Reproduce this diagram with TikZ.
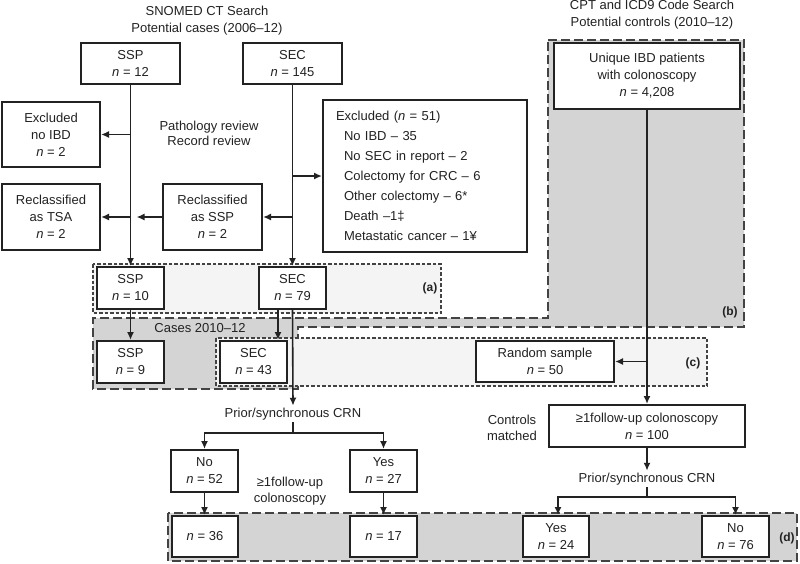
\documentclass[tikz,border=0pt]{standalone}
\usepackage{fontspec}
\setmainfont{Liberation Sans}
\usetikzlibrary{arrows.meta,calc}
\definecolor{ink}{HTML}{222222}
\definecolor{regiongray}{HTML}{D4D4D4}
\definecolor{regionlight}{HTML}{F4F4F4}
\tikzset{
  box/.style={draw=ink, line width=2pt, fill=white, align=center, inner sep=1pt, text=ink},
  txt/.style={align=center, inner sep=2pt, text=ink},
  lbl/.style={inner sep=0pt, text=ink, font=\fontsize{12}{14}\selectfont\bfseries},
  arr/.style={draw=ink, line width=1.6pt, -{Latex[length=8pt,width=7pt]}},
  conn/.style={draw=ink, line width=1.6pt},
  longdash/.style={draw=ink!85, line width=1.8pt, dash pattern=on 9pt off 4pt},
  shortdash/.style={draw=ink!85, line width=1.4pt, dash pattern=on 3.5pt off 2pt},
}
\newcommand{\nn}{\textit{n}}
\begin{document}
\begin{tikzpicture}[x=1pt,y=-1pt, font=\fontsize{13}{17}\selectfont]
\useasboundingbox (0,0) rectangle (800,563);

% regions
\path[fill=regiongray, longdash] (548,40) -- (744,40) -- (744,327) -- (298,327) -- (298,389) -- (93,389) -- (93,318) -- (548,318) -- cycle;
\path[fill=regionlight, shortdash] (93,264) rectangle (441,313);
\path[fill=regionlight, shortdash] (216,338) rectangle (707,386);
\path[fill=regiongray, longdash] (168,513) rectangle (797,561);

% titles and free texts
\node[txt] (title1) at (207,20.5) {SNOMED CT Search\\Potential cases (2006–12)};
\node[txt, font=\fontsize{13}{16.5}\selectfont] (title2) at (652,14.5) {CPT and ICD9 Code Search\\Potential controls (2010–12)};
\node[txt, font=\fontsize{13}{15.5}\selectfont] (review) at (209,133.5) {Pathology review\\Record review};
\node[txt] (cases) at (200,328) {Cases 2010–12};
\node[txt] (crn1) at (293,414) {Prior/synchronous CRN};
\node[txt] (crn2) at (647,479) {Prior/synchronous CRN};
\node[txt, font=\fontsize{13}{16}\selectfont] (futext) at (290,491) {≥1follow-up\\colonoscopy};
\node[txt, font=\fontsize{13}{16}\selectfont] (controls) at (512,428) {Controls\\matched};
\node[lbl] (la) at (430,288) {(a)};
\node[lbl] (lb) at (730,312) {(b)};
\node[lbl] (lc) at (693,363) {(c)};
\node[lbl] (ld) at (787,538) {(d)};

% boxes
\node[box, minimum width=99pt, minimum height=41pt] (ssp12) at (130.5,63.5) {SSP\\\nn{} = 12};
\node[box, minimum width=99pt, minimum height=41pt] (sec145) at (292.5,63.5) {SEC\\\nn{} = 145};
\node[box, minimum width=98pt, minimum height=65pt] (exnoibd) at (51,134.5) {Excluded\\no IBD\\\nn{} = 2};
\node[box, minimum width=98pt, minimum height=66pt] (tsa) at (51,217) {Reclassified\\as TSA\\\nn{} = 2};
\node[box, minimum width=99pt, minimum height=66pt] (rssp) at (212.5,217) {Reclassified\\as SSP\\\nn{} = 2};
\node[box, minimum height=152pt, inner xsep=13pt, text width=178pt, align=left, font=\fontsize{13}{20}\selectfont] (excl) at (425,176)
  {Excluded (\nn{} = 51)\\
   \hspace*{8pt}No IBD – 35\\
   \hspace*{8pt}No SEC in report – 2\\
   \hspace*{8pt}Colectomy for CRC – 6\\
   \hspace*{8pt}Other colectomy – 6*\\
   \hspace*{8pt}Death –1‡\\
   \hspace*{8pt}Metastatic cancer – 1¥};
\node[box, minimum width=186pt, minimum height=66pt] (unique) at (647,76) {Unique IBD patients\\with colonoscopy\\\nn{} = 4,208};

\node[box, minimum width=67pt, minimum height=42pt] (ssp10) at (130.5,288) {SSP\\\nn{} = 10};
\node[box, minimum width=67pt, minimum height=42pt] (sec79) at (292.5,288) {SEC\\\nn{} = 79};
\node[box, minimum width=67pt, minimum height=42pt] (ssp9) at (130.5,362) {SSP\\\nn{} = 9};
\node[box, minimum width=67pt, minimum height=42pt] (sec43) at (253.5,362) {SEC\\\nn{} = 43};
\node[box, minimum width=138pt, minimum height=41pt] (random) at (545,361.5) {Random sample\\\nn{} = 50};
\node[box, minimum width=196pt, minimum height=42pt] (fu100) at (647,426) {≥1follow-up colonoscopy\\\nn{} = 100};

\node[box, minimum width=67pt, minimum height=42pt] (no52) at (204.5,471) {No\\\nn{} = 52};
\node[box, minimum width=67pt, minimum height=42pt] (yes27) at (383.5,471) {Yes\\\nn{} = 27};
\node[box, minimum width=66pt, minimum height=41pt] (n36) at (205,536.5) {\nn{} = 36};
\node[box, minimum width=67pt, minimum height=41pt] (n17) at (383.5,536.5) {\nn{} = 17};
\node[box, minimum width=66pt, minimum height=41pt] (yes24) at (556,536.5) {Yes\\\nn{} = 24};
\node[box, minimum width=67pt, minimum height=41pt] (no76) at (735.5,536.5) {No\\\nn{} = 76};

% connectors
\draw[arr] (ssp12.south) -- (ssp10.north);
\draw[arr] (ssp12.south |- exnoibd.east) -- (exnoibd.east);
\draw[arr] (ssp12.south |- tsa.east) -- (tsa.east);
\coordinate (rsspend) at ($(ssp12.south |- rssp.west)+(6,0)$);
\draw[arr] (rssp.west) -- (rsspend);
\draw[arr] (sec145.south) -- (sec79.north);
\draw[arr] (sec145.south |- excl.west) -- (excl.west);
\draw[arr] (sec145.south |- rssp.east) -- (rssp.east);
\draw[arr] (ssp10.south) -- (ssp9.north);
\coordinate (s79a) at ($(sec79.south)+(-14.5,0)$);
\draw[arr] (s79a) -- (s79a |- sec43.north);
\draw[arr] (sec79.south) -- (crn1.north);
\coordinate (j1) at ($(crn1.south)+(0,11)$);
\draw[conn] (crn1.south) -- (j1);
\draw[arr] (j1) -| (no52.north);
\draw[arr] (j1) -| (yes27.north);
\draw[arr] (no52.south) -- (n36.north -| no52.south);
\draw[arr] (yes27.south) -- (n17.north);
\draw[arr] (unique.south) -- (fu100.north);
\draw[arr] (unique.south |- random.east) -- (random.east);
\draw[arr] (fu100.south) -- (crn2.north);
\coordinate (j2) at ($(crn2.south)+(0,10)$);
\draw[conn] (crn2.south) -- (j2);
\draw[arr] (j2) -| ([xshift=2pt]yes24.north);
\draw[arr] (j2) -| (no76.north);
\end{tikzpicture}
\end{document}
